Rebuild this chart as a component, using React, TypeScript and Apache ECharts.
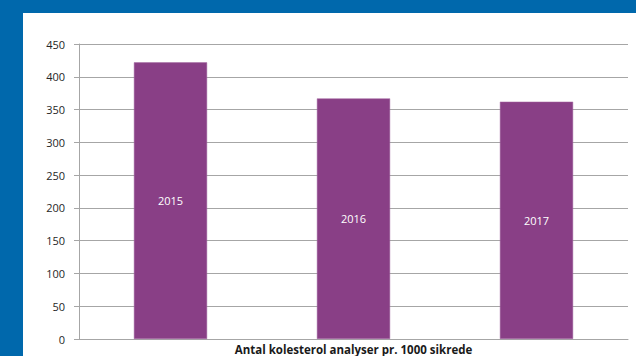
import React, { useEffect, useRef } from "react";
import * as echarts from "echarts";

const categories = ["2015", "2016", "2017"];
const values = [422, 367, 362];
const yTicks = { min: 0, max: 450, interval: 50 };
const axisTitle = "Antal kolesterol analyser pr. 1000 sikrede";

export default function App() {
  const ref = useRef<HTMLDivElement>(null);
  useEffect(() => {
    document.body.style.margin = "0";
    const chart = echarts.init(ref.current!, null, { renderer: "svg" });
    chart.setOption({
      animation: false,
      backgroundColor: "#0068AC",
      graphic: [
        { type: "rect", shape: { x: 23, y: 13, width: 613, height: 343 }, style: { fill: "#ffffff" }, z: -10 },
      ],
      grid: { left: 79, right: 8, top: 44, bottom: 17, containLabel: false, outerBoundsMode: "none" },
      xAxis: {
        type: "category",
        data: categories,
        axisLine: { show: true, lineStyle: { color: "#a6a6a6", width: 1 } },
        axisTick: { show: false },
        axisLabel: { show: false },
        name: axisTitle,
        nameLocation: "middle",
        nameGap: 4,
        nameTextStyle: { fontFamily: "Open Sans", fontWeight: "bold", fontSize: 11.5, lineHeight: 12, color: "#1a1a1a" },
      },
      yAxis: {
        type: "value",
        min: yTicks.min,
        max: yTicks.max,
        interval: yTicks.interval,
        axisLine: { show: true, lineStyle: { color: "#a6a6a6" } },
        axisTick: { show: true, length: 5, lineStyle: { color: "#a6a6a6" } },
        axisLabel: { fontFamily: "Open Sans", fontSize: 11, color: "#262626", margin: 14 },
        splitLine: { show: true, lineStyle: { color: "#a6a6a6" } },
      },
      series: [
        {
          type: "bar",
          data: values,
          barWidth: "40%",
          itemStyle: { color: "#893F86", borderColor: "#a568a2", borderWidth: 0.5 },
          label: {
            show: true,
            position: "inside",
            formatter: (p: any) => p.name,
            color: "#ffffff",
            fontFamily: "Open Sans",
            fontSize: 11,
          },
        },
      ],
    });
    return () => chart.dispose();
  }, []);
  return <div ref={ref} style={{ width: 636, height: 356 }} />;
}
